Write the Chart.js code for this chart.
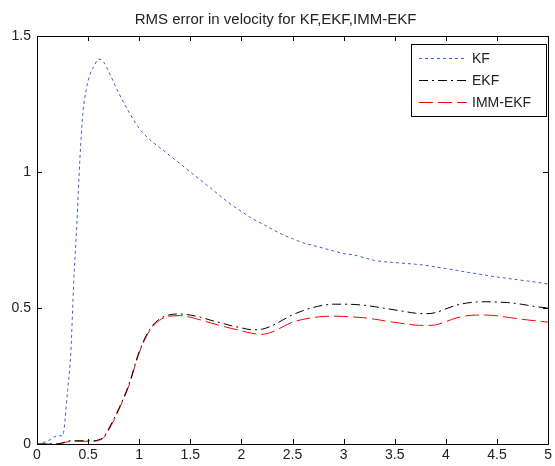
<!DOCTYPE html>
<html>
<head>
<meta charset="utf-8">
<title>RMS error in velocity</title>
<script src="https://cdn.jsdelivr.net/npm/chart.js@4.4.1/dist/chart.umd.min.js"></script>
<style>
    html, body { margin: 0; padding: 0; background: #ffffff; }
    #chart { display: block; }
</style>
</head>
<body>
<canvas id="chart" width="555" height="466"></canvas>
<script>
// time axis (s) shared by all three series
const timeValues = [
    0, 0.1, 0.2, 0.25, 0.3, 0.33, 0.36, 0.39, 0.42, 0.45, 0.48, 0.52, 0.56, 0.6, 0.65, 0.7,
    0.8, 0.9, 1.0, 1.1, 1.2, 1.3, 1.4, 1.5, 1.6, 1.7, 1.8, 1.9, 2.0, 2.1, 2.2, 2.3, 2.4,
    2.5, 2.6, 2.7, 2.8, 2.9, 3.0, 3.1, 3.2, 3.3, 3.4, 3.5, 3.6, 3.7, 3.8, 3.9, 4.0, 4.1,
    4.2, 4.3, 4.4, 4.5, 4.6, 4.7, 4.8, 4.9, 5.0
];

const kfValues = [
    0, 0.01, 0.03, 0.03, 0.2, 0.33, 0.6, 0.81, 1.05, 1.22, 1.3, 1.36, 1.39, 1.415, 1.405, 1.37,
    1.29, 1.22, 1.16, 1.12, 1.09, 1.06, 1.03, 1.0, 0.97, 0.94, 0.91, 0.88, 0.855, 0.83, 0.81, 0.79, 0.77,
    0.755, 0.74, 0.73, 0.72, 0.71, 0.70, 0.695, 0.685, 0.675, 0.67, 0.667, 0.664, 0.661, 0.657, 0.651, 0.645, 0.639,
    0.632, 0.626, 0.62, 0.614, 0.609, 0.604, 0.599, 0.594, 0.588
];

const ekfValues = [
    0, 0, 0, 0.005, 0.01, 0.012, 0.012, 0.012, 0.012, 0.012, 0.012, 0.012, 0.012, 0.015, 0.025, 0.055,
    0.13, 0.22, 0.34, 0.42, 0.46, 0.475, 0.478, 0.474, 0.466, 0.455, 0.445, 0.435, 0.427, 0.42, 0.422, 0.435, 0.455,
    0.475, 0.49, 0.502, 0.51, 0.514, 0.514, 0.513, 0.51, 0.505, 0.499, 0.493, 0.487, 0.481, 0.479, 0.483, 0.497, 0.51,
    0.518, 0.522, 0.523, 0.522, 0.52, 0.516, 0.51, 0.504, 0.50
];

const immValues = [
    0, 0, 0, 0.003, 0.008, 0.01, 0.01, 0.01, 0.01, 0.01, 0.01, 0.01, 0.01, 0.013, 0.022, 0.05,
    0.125, 0.215, 0.335, 0.415, 0.455, 0.47, 0.472, 0.466, 0.456, 0.445, 0.435, 0.425, 0.416, 0.407, 0.403, 0.412, 0.43,
    0.448, 0.458, 0.465, 0.469, 0.47, 0.469, 0.467, 0.464, 0.459, 0.453, 0.447, 0.442, 0.437, 0.436, 0.438, 0.45, 0.463,
    0.471, 0.474, 0.474, 0.471, 0.466, 0.461, 0.456, 0.452, 0.448
];

const seriesLabels = ['KF', 'EKF', 'IMM-EKF'];
const xTicks = [0, 0.5, 1, 1.5, 2, 2.5, 3, 3.5, 4, 4.5, 5];
const yTicks = [0, 0.5, 1, 1.5];

(function() {
    'use strict';

    const FONT = 'Liberation Sans, Arial, Helvetica, sans-serif';

    function toPoints(ys) {
        return timeValues.map((t, i) => ({ x: t, y: ys[i] }));
    }

    // plain number labels like MATLAB: 0, 0.5, 1, 1.5 ...
    function tickLabel(v) {
        return String(+Number(v).toFixed(2));
    }

    // MATLAB style: full box, ticks pointing inward, boxed legend top-right
    const matlabFrame = {
        id: 'matlabFrame',
        afterDatasetsDraw(chart) {
            const ctx = chart.ctx;
            const area = chart.chartArea;
            const xs = chart.scales.x;
            const ys = chart.scales.y;
            const tickLen = 5;

            ctx.save();
            ctx.strokeStyle = '#000000';
            ctx.lineWidth = 1;
            ctx.setLineDash([]);
            ctx.strokeRect(Math.round(area.left) + 0.5, Math.round(area.top) + 0.5,
                Math.round(area.right - area.left), Math.round(area.bottom - area.top));

            ctx.beginPath();
            xTicks.forEach(v => {
                const px = Math.round(xs.getPixelForValue(v)) + 0.5;
                ctx.moveTo(px, area.bottom);
                ctx.lineTo(px, area.bottom - tickLen);
                ctx.moveTo(px, area.top);
                ctx.lineTo(px, area.top + tickLen);
            });
            yTicks.forEach(v => {
                const py = Math.round(ys.getPixelForValue(v)) + 0.5;
                ctx.moveTo(area.left, py);
                ctx.lineTo(area.left + tickLen, py);
                ctx.moveTo(area.right, py);
                ctx.lineTo(area.right - tickLen, py);
            });
            ctx.stroke();

            // legend box
            const box = { left: 411, top: 44, right: 546, bottom: 116 };
            ctx.fillStyle = '#ffffff';
            ctx.fillRect(box.left, box.top, box.right - box.left, box.bottom - box.top);
            ctx.strokeStyle = '#000000';
            ctx.strokeRect(box.left + 0.5, box.top + 0.5, box.right - box.left, box.bottom - box.top);

            const rowY = [58, 80, 102];
            ctx.font = '14px ' + FONT;
            ctx.textBaseline = 'middle';
            ctx.textAlign = 'left';
            chart.data.datasets.forEach((ds, i) => {
                const y = rowY[i] + 0.5;
                ctx.beginPath();
                ctx.strokeStyle = ds.borderColor;
                ctx.setLineDash(ds.borderDash || []);
                ctx.moveTo(419, y);
                ctx.lineTo(467, y);
                ctx.stroke();
                ctx.setLineDash([]);
                ctx.fillStyle = '#222222';
                ctx.fillText(ds.label, 472, rowY[i] + 1);
            });
            ctx.restore();
        }
    };

    const ctx = document.getElementById('chart').getContext('2d');

    new Chart(ctx, {
        type: 'line',
        data: {
            datasets: [
                {
                    label: seriesLabels[0],
                    data: toPoints(kfValues),
                    borderColor: '#3f5fc4',
                    borderWidth: 1,
                    borderDash: [3, 3],
                    pointRadius: 0,
                    cubicInterpolationMode: 'monotone',
                    fill: false
                },
                {
                    label: seriesLabels[1],
                    data: toPoints(ekfValues),
                    borderColor: '#000000',
                    borderWidth: 1,
                    borderDash: [9, 4, 2, 4],
                    pointRadius: 0,
                    cubicInterpolationMode: 'monotone',
                    fill: false
                },
                {
                    label: seriesLabels[2],
                    data: toPoints(immValues),
                    borderColor: '#ff0000',
                    borderWidth: 1,
                    borderDash: [14, 5],
                    pointRadius: 0,
                    cubicInterpolationMode: 'monotone',
                    fill: false
                }
            ]
        },
        options: {
            responsive: false,
            animation: false,
            devicePixelRatio: 1,
            layout: { padding: { left: 0, right: 4, top: 0, bottom: 0 } },
            plugins: {
                legend: { display: false },
                tooltip: { enabled: false },
                title: {
                    display: true,
                    text: 'RMS error in velocity for KF,EKF,IMM-EKF',
                    color: '#222222',
                    font: { family: FONT, size: 15, weight: 'normal' },
                    padding: { top: 11, bottom: 7 }
                }
            },
            scales: {
                x: {
                    type: 'linear',
                    min: 0,
                    max: 5,
                    grid: { display: false, drawTicks: false },
                    border: { display: false },
                    afterFit: scale => { scale.height = 22; },
                    afterBuildTicks: scale => { scale.ticks = xTicks.map(v => ({ value: v })); },
                    ticks: {
                        color: '#222222',
                        padding: 3,
                        maxRotation: 0,
                        autoSkip: false,
                        callback: tickLabel,
                        font: { family: FONT, size: 14 }
                    }
                },
                y: {
                    type: 'linear',
                    min: 0,
                    max: 1.5,
                    grid: { display: false, drawTicks: false },
                    border: { display: false },
                    afterFit: scale => { scale.width = 37; },
                    afterBuildTicks: scale => { scale.ticks = yTicks.map(v => ({ value: v })); },
                    ticks: {
                        color: '#222222',
                        padding: 6,
                        autoSkip: false,
                        callback: tickLabel,
                        font: { family: FONT, size: 14 }
                    }
                }
            }
        },
        plugins: [matlabFrame]
    });
})();
</script>
</body>
</html>
